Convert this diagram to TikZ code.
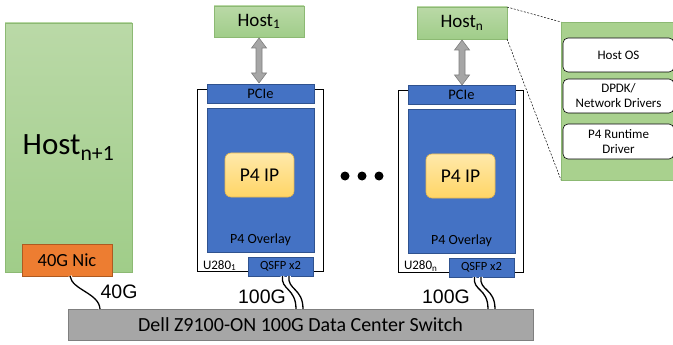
\documentclass[tikz,border=0pt]{standalone}
\usepackage{fontspec}
\setmainfont{Carlito}
\newfontfamily\arialfont{Liberation Sans}
\usetikzlibrary{calc}
\definecolor{grtop}{RGB}{186,217,167}
\definecolor{grbot}{RGB}{160,205,137}
\definecolor{grline}{RGB}{140,185,115}
\definecolor{panelg}{RGB}{169,209,142}
\definecolor{ublue}{RGB}{68,114,196}
\definecolor{ubluel}{RGB}{47,82,143}
\definecolor{nicor}{RGB}{237,125,49}
\definecolor{nicorl}{RGB}{174,90,33}
\definecolor{iptop}{RGB}{255,233,170}
\definecolor{ipbot}{RGB}{255,213,102}
\definecolor{ipline}{RGB}{230,184,80}
\definecolor{swg}{RGB}{166,166,166}
\definecolor{swgl}{RGB}{127,127,127}
\begin{document}
\begin{tikzpicture}[x=1pt,y=-1pt,
  every node/.style={inner sep=0pt, outer sep=0pt},
  hostbox/.style={draw=grline, line width=0.5pt, top color=grtop, bottom color=grbot, shading angle=0},
  bluebox/.style={draw=ubluel, line width=0.6pt, fill=ublue},
  cardbox/.style={draw=black, line width=0.8pt, fill=white},
  ipbox/.style={draw=ipline, line width=0.6pt, rounded corners=6pt, top color=iptop, bottom color=ipbot},
  swbox/.style={draw=swgl, line width=0.8pt, fill=swg},
  nicbox/.style={draw=nicorl, line width=0.6pt, fill=nicor},
  swbox2/.style={draw=black, line width=0.6pt, fill=white, rounded corners=5pt, align=center,
     font=\fontsize{13}{15}\selectfont},
  cable/.style={line width=1.3pt, black, preaction={draw=white, line width=3.6pt}},
  arrowshape/.style={draw=swgl, line width=0.6pt, fill=swg},
  speed/.style={font=\arialfont\fontsize{19.5}{20}\selectfont},
  dots/.style={circle, fill=black, minimum size=9pt}
]
\useasboundingbox (0,0) rectangle (673,345);

% Host n+1
\node[hostbox, minimum width=127pt, minimum height=249pt,
      font=\fontsize{31}{33}\selectfont] (hbig) at (68.5,147.5) {Host\textsubscript{n+1}};
\node[nicbox, minimum width=90pt, minimum height=32pt,
      font=\fontsize{18.5}{20}\selectfont] (nic) at (67,260) {40G Nic};

% Switch
\node[swbox, minimum width=465pt, minimum height=31pt,
      font=\fontsize{20}{22}\selectfont] (sw) at (300.5,324.5) {Dell Z9100-ON 100G Data Center Switch};

% Hosts
\node[hostbox, minimum width=90pt, minimum height=31pt,
      font=\fontsize{19}{21}\selectfont] (h1) at (259,21.5) {Host\textsubscript{1}};
\node[hostbox, minimum width=90pt, minimum height=32pt,
      font=\fontsize{19}{21}\selectfont] (hn) at (462,23) {Host\textsubscript{n}};

% Card 1
\node[cardbox, minimum width=126pt, minimum height=182pt] (u1) at (260,180) {};
\node[bluebox, minimum width=107pt, minimum height=19pt, font=\fontsize{14.5}{16}\selectfont] (pcie1) at (260.5,93.5) {PCIe};
\node[bluebox, minimum width=107pt, minimum height=144pt] (ov1) at (260.5,180) {};
\node[font=\fontsize{14}{16}\selectfont] (ovl1) at ([yshift=12pt]ov1.south) {P4 Overlay};
\node[ipbox, minimum width=69pt, minimum height=44pt, font=\fontsize{19.5}{21}\selectfont] (ip1) at (259.5,175) {P4 IP};
\node[bluebox, minimum width=65pt, minimum height=19pt, font=\fontsize{12.5}{14}\selectfont] (q1) at (280.5,266.5) {QSFP x2};
\node[anchor=base west, font=\fontsize{13}{14}\selectfont] (ul1) at (203,269) {U280\textsubscript{1}};

% Card n
\node[cardbox, minimum width=125pt, minimum height=182pt] (un) at (460.5,181) {};
\node[bluebox, minimum width=107pt, minimum height=19pt, font=\fontsize{14.5}{16}\selectfont] (pcien) at (461.5,94.5) {PCIe};
\node[bluebox, minimum width=107pt, minimum height=144pt] (ovn) at (461.5,181) {};
\node[font=\fontsize{14}{16}\selectfont] (ovln) at ([yshift=12pt]ovn.south) {P4 Overlay};
\node[ipbox, minimum width=69pt, minimum height=44pt, font=\fontsize{19.5}{21}\selectfont] (ipn) at (460.5,176) {P4 IP};
\node[bluebox, minimum width=65pt, minimum height=19pt, font=\fontsize{12.5}{14}\selectfont] (qn) at (481.5,267.5) {QSFP x2};
\node[anchor=base west, font=\fontsize{13}{14}\selectfont] (uln) at (404,269.5) {U280\textsubscript{n}};

% double arrows
\draw[arrowshape] ([yshift=-1pt]h1.south) -- ++(7.5,10) -- ++(-4.5,0) -- ++(0,25) -- ++(4.5,0)
   -- ++(-7.5,10) -- ++(-7.5,-10) -- ++(4.5,0) -- ++(0,-25) -- ++(-4.5,0) -- cycle;
\draw[arrowshape] ([yshift=-1pt]hn.south) -- ++(7.5,10) -- ++(-4.5,0) -- ++(0,25) -- ++(4.5,0)
   -- ++(-7.5,10) -- ++(-7.5,-10) -- ++(4.5,0) -- ++(0,-25) -- ++(-4.5,0) -- cycle;

% dots
\node[dots] (d1) at (345,176) {};
\node[dots] (d2) at (362,176) {};
\node[dots] (d3) at (379,176) {};

% cables
\draw[cable] ([xshift=3pt]nic.south) .. controls +(2,14) and +(-1,-16) .. ([xshift=-200.5pt]sw.north);
\draw[cable] ([xshift=2pt]q1.south) .. controls +(-2,14) and +(0,-21) .. ([xshift=-4.5pt]sw.north);
\draw[cable] ([xshift=8.5pt]q1.south) .. controls +(-2,14) and +(0,-21) .. ([xshift=2.5pt]sw.north);
\draw[cable] ([xshift=-7pt]qn.south) .. controls +(-2,14) and +(0,-21) .. ([xshift=187.5pt]sw.north);
\draw[cable] ([xshift=-0.5pt]qn.south) .. controls +(-2,14) and +(0,-21) .. ([xshift=194.5pt]sw.north);

% speed labels
\node[speed] (s40) at (119,292) {40G};
\node[speed] (s1) at (262,297) {100G};
\node[speed] (sn) at (446,297) {100G};

% detail panel
\node[fill=panelg, draw=grline, line width=0.4pt, anchor=north west, minimum width=120pt, minimum height=158pt] (panel) at (561,22) {};
\node[swbox2, minimum width=111pt, minimum height=34pt] (os) at (618.5,55) {Host OS};
\node[swbox2, minimum width=111pt, minimum height=34pt] (dpdk) at (618.5,96) {DPDK/\\Network Drivers};
\node[swbox2, minimum width=111pt, minimum height=35pt] (p4rt) at (618.5,141.5) {P4 Runtime\\Driver};
\draw[dashed, line width=0.5pt, dash pattern=on 2pt off 1.5pt] (hn.north east) -- (panel.north west);
\draw[dashed, line width=0.5pt, dash pattern=on 2pt off 1.5pt] (hn.south east) -- (panel.south west);
\end{tikzpicture}
\end{document}
